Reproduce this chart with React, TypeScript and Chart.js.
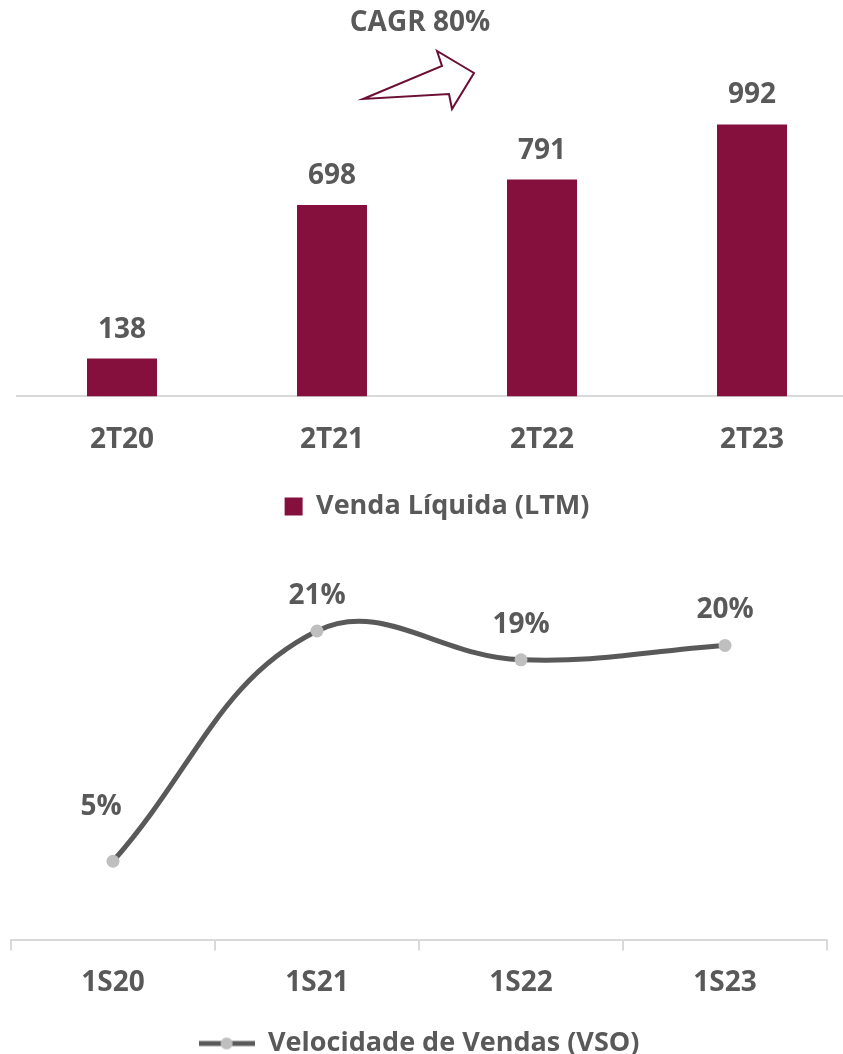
import React, { useEffect, useRef } from "react";
import { Chart, registerables } from "chart.js";

Chart.register(...registerables);

// ---- data ----
const barCategories = ["2T20", "2T21", "2T22", "2T23"];
const barValues = [138, 698, 791, 992];
const barSeriesName = "Venda Líquida (LTM)";
const cagrLabel = "CAGR 80%";

const lineCategories = ["1S20", "1S21", "1S22", "1S23"];
const lineValues = [5, 21, 19, 20];
const lineSeriesName = "Velocidade de Vendas (VSO)";

// ---- style ----
const FONT = "'Open Sans', 'DejaVu Sans', sans-serif";
const TEXT = "#595959";
const BAR = "#85103d";
const ARROW = "#6b0f35";
const LINE = "#595959";
const POINT = "#bfbfbf";
const AXIS = "#d9d9d9";

const barLabelPlugin = {
  id: "barLabels",
  afterDatasetsDraw(chart: any) {
    const ctx = chart.ctx;
    const meta = chart.getDatasetMeta(0);
    ctx.save();
    ctx.font = `bold 28px ${FONT}`;
    ctx.fillStyle = TEXT;
    ctx.textAlign = "center";
    ctx.textBaseline = "middle";
    meta.data.forEach((el: any, i: number) => {
      ctx.fillText(String(barValues[i]), el.x, el.y - 29);
    });
    ctx.restore();
  },
};

const cagrPlugin = {
  id: "cagr",
  afterDraw(chart: any) {
    const ctx = chart.ctx;
    ctx.save();
    ctx.font = `bold 28px ${FONT}`;
    ctx.fillStyle = TEXT;
    ctx.textAlign = "center";
    ctx.textBaseline = "middle";
    ctx.fillText(cagrLabel, 420, 23);
    const pts = [
      [363, 99],
      [442, 66],
      [437, 51],
      [474, 73],
      [452, 109],
      [449, 94],
    ];
    ctx.beginPath();
    pts.forEach((p, i) => (i === 0 ? ctx.moveTo(p[0], p[1]) : ctx.lineTo(p[0], p[1])));
    ctx.closePath();
    ctx.fillStyle = "#ffffff";
    ctx.fill();
    ctx.strokeStyle = ARROW;
    ctx.lineWidth = 2;
    ctx.lineJoin = "miter";
    ctx.stroke();
    ctx.restore();
  },
};

const lineLabelPlugin = {
  id: "lineLabels",
  afterDatasetsDraw(chart: any) {
    const ctx = chart.ctx;
    const meta = chart.getDatasetMeta(0);
    ctx.save();
    ctx.font = `bold 28px ${FONT}`;
    ctx.fillStyle = TEXT;
    ctx.textAlign = "center";
    ctx.textBaseline = "middle";
    meta.data.forEach((el: any, i: number) => {
      const dx = i === 0 ? -12 : 0;
      const dy = i === 0 ? -54 : -35;
      ctx.fillText(`${lineValues[i]}%`, el.x + dx, el.y + dy);
    });
    ctx.restore();
  },
};

function makeLegendIcon() {
  const c = document.createElement("canvas");
  c.width = 56;
  c.height = 14;
  const ctx = c.getContext("2d")!;
  ctx.strokeStyle = LINE;
  ctx.lineWidth = 5;
  ctx.beginPath();
  ctx.moveTo(0, 7);
  ctx.lineTo(56, 7);
  ctx.stroke();
  ctx.fillStyle = POINT;
  ctx.beginPath();
  ctx.arc(28, 7, 6, 0, Math.PI * 2);
  ctx.fill();
  return c;
}

export default function App() {
  const barRef = useRef<HTMLCanvasElement>(null);
  const lineRef = useRef<HTMLCanvasElement>(null);

  useEffect(() => {
    const tickFont = { family: FONT, size: 28, weight: "bold" as const };
    const legendFont = { family: FONT, size: 27, weight: "bold" as const };

    const bar = new Chart(barRef.current!, {
      type: "bar",
      data: {
        labels: barCategories,
        datasets: [
          {
            label: barSeriesName,
            data: barValues,
            backgroundColor: BAR,
            categoryPercentage: 1,
            barPercentage: 1 / 3,
          },
        ],
      },
      options: {
        animation: false,
        responsive: false,
        maintainAspectRatio: false,
        layout: { padding: { left: 17, right: 3, top: 40, bottom: 0 } },
        scales: {
          x: {
            grid: { display: false, drawTicks: false },
            border: { display: true, color: AXIS, width: 2 },
            ticks: { color: TEXT, font: tickFont, padding: 27 },
          },
          y: { display: false, min: 0, max: 1300 },
        },
        plugins: {
          legend: {
            position: "bottom",
            labels: { boxWidth: 18, boxHeight: 18, color: TEXT, font: legendFont, padding: 9 },
          },
          tooltip: { enabled: false },
        },
      },
      plugins: [barLabelPlugin, cagrPlugin],
    });

    const icon = makeLegendIcon();
    const line = new Chart(lineRef.current!, {
      type: "line",
      data: {
        labels: lineCategories,
        datasets: [
          {
            label: lineSeriesName,
            data: lineValues,
            borderColor: LINE,
            borderWidth: 5,
            tension: 0.4,
            pointRadius: 6.5,
            pointBackgroundColor: POINT,
            pointBorderColor: POINT,
            pointBorderWidth: 0,
            pointStyle: "circle",
          },
        ],
      },
      options: {
        animation: false,
        responsive: false,
        maintainAspectRatio: false,
        layout: { padding: { left: 11, right: 16, top: 40, bottom: 0 } },
        scales: {
          x: {
            offset: true,
            grid: {
              display: true,
              offset: true,
              drawOnChartArea: false,
              drawTicks: true,
              tickLength: 10,
              color: AXIS,
              lineWidth: 2,
            },
            border: { display: true, color: AXIS, width: 2 },
            ticks: { color: TEXT, font: tickFont, padding: 16 },
          },
          y: { display: false, min: -0.5, max: 25.1 },
        },
        plugins: {
          legend: {
            position: "bottom",
            labels: {
              usePointStyle: true,
              pointStyle: icon as any,
              pointStyleWidth: 56,
              boxHeight: 14,
              color: TEXT,
              font: legendFont,
              padding: 14,
              generateLabels: () => [
                {
                  text: lineSeriesName,
                  fillStyle: POINT,
                  strokeStyle: LINE,
                  lineWidth: 0,
                  pointStyle: icon,
                  fontColor: TEXT,
                  datasetIndex: 0,
                  hidden: false,
                } as any,
              ],
            },
          },
          tooltip: { enabled: false },
        },
      },
      plugins: [lineLabelPlugin],
    });

    return () => {
      bar.destroy();
      line.destroy();
    };
  }, []);

  return (
    <div
      style={{
        position: "absolute",
        left: 0,
        top: 0,
        width: 843,
        height: 1054,
        overflow: "hidden",
        background: "#ffffff",
      }}
    >
      <canvas
        ref={barRef}
        width={860}
        height={530}
        style={{ position: "absolute", left: 0, top: 0, width: 860, height: 530 }}
      />
      <canvas
        ref={lineRef}
        width={843}
        height={535}
        style={{ position: "absolute", left: 0, top: 532, width: 843, height: 535 }}
      />
    </div>
  );
}
